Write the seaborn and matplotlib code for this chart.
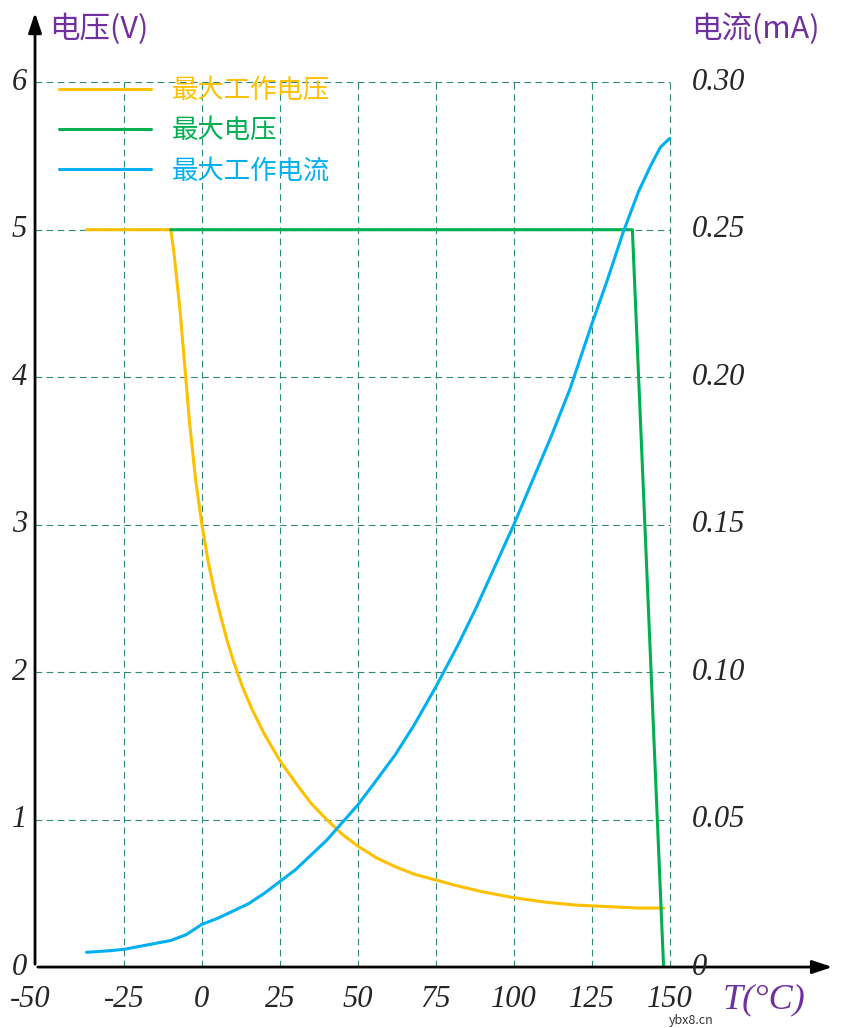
import numpy as np
import pandas as pd
import matplotlib
matplotlib.use("Agg")
import matplotlib.pyplot as plt
import seaborn as sns

sns.set_style("white")
plt.rcParams['font.family'] = ['Noto Sans CJK SC', 'DejaVu Sans']

# data
t_work_v = [-37, -10, -9, -8, -7, -6, -5, -4, -3, -2, -1, 0, 2, 4, 6, 8, 10, 13, 16, 20, 25, 30, 35, 40,
            45, 50, 56, 62, 68, 75, 82, 90, 100, 110, 120, 130, 140, 148]
work_v = [5.0, 5.0, 4.85, 4.65, 4.45, 4.2, 3.95, 3.7, 3.5, 3.3, 3.15, 3.0, 2.75, 2.55, 2.38, 2.22, 2.08, 1.9, 1.75, 1.58,
          1.4, 1.25, 1.11, 1.0, 0.9, 0.82, 0.74, 0.68, 0.63, 0.59, 0.55, 0.51, 0.47, 0.44, 0.42, 0.41, 0.4, 0.4]
t_max_v = [-10, 138, 148]
max_v = [5.0, 5.0, 0.0]
t_cur = [-37, -30, -25, -20, -15, -10, -5, 0, 5, 10, 15, 20, 25, 30, 35, 40, 45, 50, 55, 62, 68, 75, 82, 88,
         94, 100, 106, 112, 118, 125, 130, 135, 140, 144, 147, 150]
cur_ma = [0.005, 0.0053, 0.0058, 0.0066, 0.0076, 0.0088, 0.0102, 0.0118, 0.0136, 0.0156, 0.0178, 0.0203, 0.0231,
          0.0262, 0.0296, 0.0333, 0.0373, 0.0416, 0.0462, 0.0532, 0.0598, 0.0682, 0.0776, 0.0863, 0.0957, 0.1058,
          0.1165, 0.1279, 0.1399, 0.1545, 0.1651, 0.1760, 0.1874, 0.1993, 0.2090, 0.2185]
cur_ma = [c * 1.37 if False else c for c in cur_ma]
cur_ma = [0.005, 0.0055, 0.006, 0.007, 0.008, 0.009, 0.011, 0.0145, 0.0165, 0.019, 0.0215, 0.025, 0.029,
          0.033, 0.038, 0.043, 0.049, 0.055, 0.062, 0.072, 0.082, 0.095, 0.109, 0.122, 0.136, 0.150,
          0.165, 0.180, 0.196, 0.218, 0.233, 0.249, 0.263, 0.272, 0.278, 0.281]

x_ticks = [-50, -25, 0, 25, 50, 75, 100, 125, 150]
y_ticks = [0, 1, 2, 3, 4, 5, 6]
cur_ticks = ["0", "0.05", "0.10", "0.15", "0.20", "0.25", "0.30"]

fig = plt.figure(figsize=(8.44, 10.28), dpi=100)
ax = fig.add_axes([0.0415, 0.0593, 0.948, 0.931])
ax.set_xlim(-53.5, 203)
ax.set_ylim(0, 6.49)

grid = "#2e8b77"
ax.hlines(y_ticks[1:], -53.5, 150, colors=grid, linestyles=(0, (6, 4)), lw=0.8)
ax.vlines(x_ticks[1:], 0, 6, colors=grid, linestyles=(0, (6, 4)), lw=0.8)

yellow, green, blue = "#ffc000", "#00b050", "#00b0f0"
sns.lineplot(x=t_work_v, y=work_v, color=yellow, lw=2.2, ax=ax, label="最大工作电压")
sns.lineplot(x=t_max_v, y=max_v, color=green, lw=2.2, ax=ax, label="最大电压")
cur_as_v = [c / 0.05 for c in cur_ma]
sns.lineplot(x=t_cur, y=cur_as_v, color=blue, lw=2.2, ax=ax, label="最大工作电流")

for s in ax.spines.values():
    s.set_visible(False)
ax.set_xticks([])
ax.set_yticks([])
ax.set_xlabel("")
ax.set_ylabel("")

# arrow axes
ax.annotate("", xy=(203, 0), xytext=(-53.5, 0), xycoords="data",
            arrowprops=dict(arrowstyle="-|>,head_width=0.4,head_length=1.2", color="black", lw=2), annotation_clip=False)
ax.annotate("", xy=(-53.5, 6.49), xytext=(-53.5, 0), xycoords="data",
            arrowprops=dict(arrowstyle="-|>,head_width=0.4,head_length=1.2", color="black", lw=2), annotation_clip=False)

num = dict(family="Liberation Serif", style="italic", fontsize=22)
for x in x_ticks:
    ax.text(x if x > -50 else -55, -0.12, str(x), ha="center", va="top", **num)
for y in y_ticks:
    ax.text(-56, y, str(y), ha="right", va="center", **num)
for y, lab in zip(y_ticks, cur_ticks):
    ax.text(157, y, lab, ha="left", va="center", **num)

purple = "#7030a0"
ax.text(-49, 6.36, "电压(V)", ha="left", va="center", color=purple, fontsize=22, style="italic",
        family=["Noto Sans CJK SC", "Liberation Serif"])
ax.text(198, 6.36, "电流(mA)", ha="right", va="center", color=purple, fontsize=22, style="italic",
        family=["Noto Sans CJK SC", "Liberation Serif"])
ax.text(167, -0.22, "T(°C)", ha="left", va="center", color=purple, fontsize=26, style="italic",
        family="Liberation Serif")
ax.text(157, -0.36, "ybx8.cn", ha="center", va="center", fontsize=9, color="#333333")

leg = ax.legend(loc="upper left", bbox_to_anchor=(0.0, 0.955), frameon=False, fontsize=19,
                labelcolor="linecolor", handlelength=3.5)

fig.savefig("out.png", dpi=100)
